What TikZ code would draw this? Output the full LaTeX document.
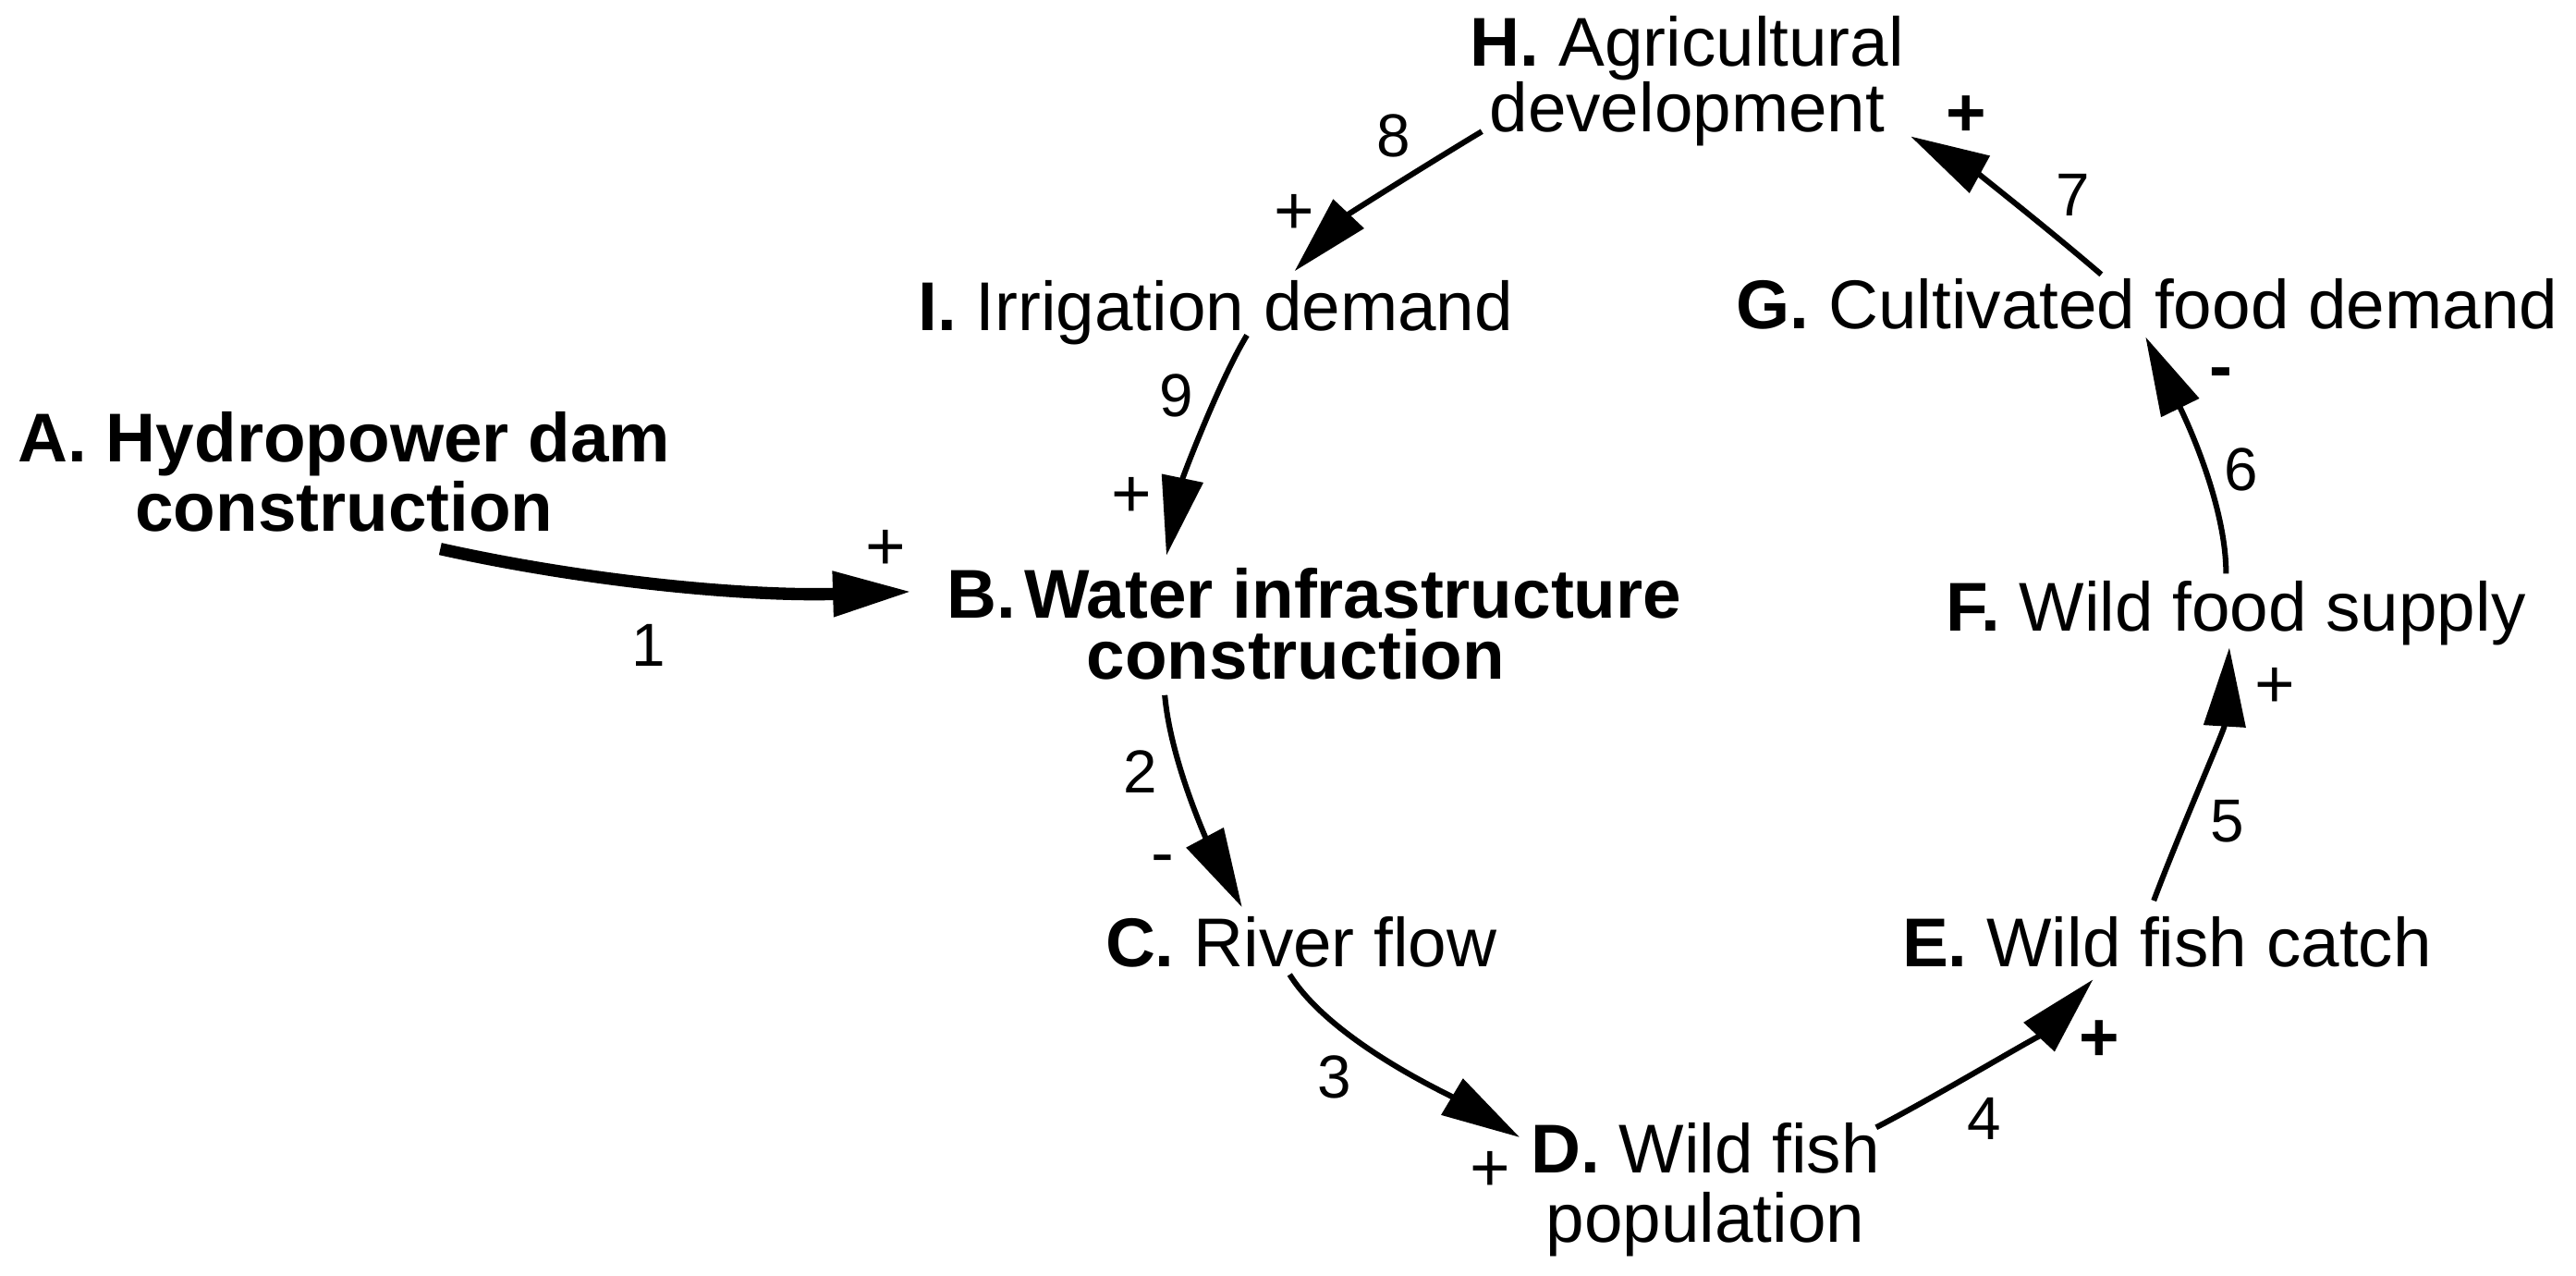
\documentclass[tikz,border=0pt]{standalone}
\usepackage{fontspec}
\setmainfont{Liberation Sans}
\usetikzlibrary{arrows.meta}
\newcommand{\myfs}[1]{\fontsize{11.95pt}{#1}\selectfont}
\tikzset{
  txt/.style={inner sep=0pt, outer sep=0pt, font=\myfs{11.95pt}},
  num/.style={inner sep=0pt, anchor=base, font=\fontsize{10.5pt}{10.5pt}\selectfont},
  sgn/.style={inner sep=0pt, anchor=base, font=\myfs{11.95pt}},
  bsgn/.style={inner sep=0pt, anchor=base, font=\myfs{11.95pt}\bfseries},
  link/.style={line width=0.034cm, -{Triangle[length=0.48cm,width=0.25cm]}},
  mainlink/.style={line width=0.075cm, -{Triangle[length=0.48cm,width=0.26cm]}},
}
\begin{document}
\begin{tikzpicture}[x=0.01cm, y=-0.01cm]
\path[use as bounding box, fill=white] (0,0) rectangle (1568,776);

% variables
\node[txt, font=\myfs{11.95pt}\bfseries, align=center] (A) at (209.5,287.2) {A. Hydropower dam\\construction};
\node[txt, font=\myfs{10.53pt}\bfseries, align=left] (B) at (800,379.5) {B.\kern0.12em Water infrastructure\\\hspace*{0.85cm}construction};
\node[txt, anchor=base] (C) at (792,588) {\textbf{C.} River flow};
\node[txt, font=\myfs{11.95pt}, align=center] (D) at (1038,724) {\textbf{D.} Wild fish\\population};
\node[txt, anchor=base] (E) at (1319,588) {\textbf{E.} Wild fish catch};
\node[txt, anchor=base] (F) at (1361,384) {\textbf{F.} Wild food supply};
\node[txt, anchor=base] (G) at (1307,200) {\textbf{G.} Cultivated food demand};
\node[txt, font=\myfs{11.38pt}, align=center] (H) at (1027,49.4) {\textbf{H.} Agricultural\\development};
\node[txt, anchor=base] (I) at (740,201) {\textbf{I.} Irrigation demand};

% links
\draw[mainlink] ([shift={(58.5,46.8)}]A.center) .. controls +(90,20) and +(-100,3) .. ([shift={(-245,-19.5)}]B.center);
\draw[link] ([shift={(-91,43.5)}]B.center) .. controls +(4,45) and +(-16,-30) .. ([shift={(-36,-36)}]C.base);
\draw[link] ([shift={(-7,5)}]C.base) .. controls +(25,40) and +(-45,-27) .. ([shift={(-113,-32)}]D.center);
\draw[link] ([shift={(104,-38)}]D.center) .. controls +(35,-18) and +(-30,32) .. ([shift={(-45,8)}]E.base);
\draw[link] ([shift={(-8,-40)}]E.base) .. controls +(15,-40) and +(-3,50) .. ([shift={(-4,10)}]F.base);
\draw[link] ([shift={(-6,-35)}]F.base) .. controls +(0,-44) and +(22,45) .. ([shift={(-1,5)}]G.base);
\draw[link] ([shift={(-28,-33)}]G.base) .. controls +(-35,-30) and +(40,22) .. ([shift={(136,33.6)}]H.center);
\draw[link] ([shift={(-125,30.6)}]H.center) .. controls +(-30,18) and +(33,-35) .. ([shift={(48,-36)}]I.base);
\draw[link] ([shift={(19,3)}]I.base) .. controls +(-16,26) and +(10,-48) .. ([shift={(-90,-41.5)}]B.center);

% link numbers
\node[num] (n1) at (395,405.2) {1};
\node[num] (n2) at (694,482.2) {2};
\node[num] (n3) at (812,668.2) {3};
\node[num] (n4) at (1208,693.2) {4};
\node[num] (n5) at (1356,512.2) {5};
\node[num] (n6) at (1364,298.2) {6};
\node[num] (n7) at (1262,131.2) {7};
\node[num] (n8) at (848,95.2) {8};
\node[num] (n9) at (716,253.2) {9};

% polarities
\node[sgn] (s1) at (539,346.8) {+};
\node[sgn] (s2) at (708,533.2) {-};
\node[sgn] (s3) at (907,724.8) {+};
\node[bsgn] (s4) at (1278,645.8) {+};
\node[sgn] (s5) at (1385,430.8) {+};
\node[bsgn] (s6) at (1352,237) {-};
\node[bsgn] (s7) at (1197,82.8) {+};
\node[sgn] (s8) at (788,142.8) {+};
\node[sgn] (s9) at (689,314.8) {+};
\end{tikzpicture}
\end{document}
